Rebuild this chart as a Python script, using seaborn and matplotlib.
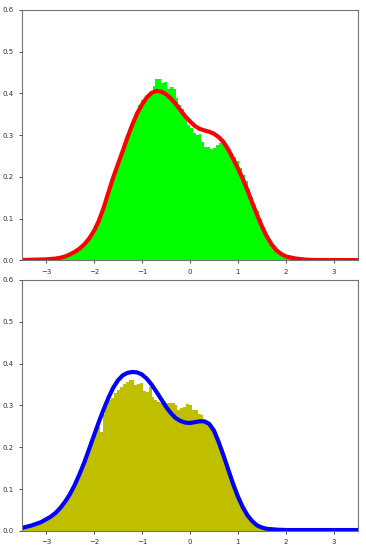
import numpy as np
import pandas as pd
import seaborn as sns
import matplotlib
matplotlib.use("Agg")
import matplotlib.pyplot as plt

# ---- top panel: histogram (bin width 0.06 from -3.0) + fitted density ----
top_start = -3.0
top_width = 0.06
top_heights = [
    0.001, 0.002, 0.003, 0.004, 0.005, 0.006, 0.008, 0.010, 0.013, 0.016,
    0.020, 0.025, 0.030, 0.037, 0.045, 0.054, 0.064, 0.077, 0.093, 0.112,
    0.131, 0.155, 0.177, 0.199, 0.221, 0.238, 0.262, 0.281, 0.302, 0.320,
    0.338, 0.356, 0.372, 0.383, 0.388, 0.397, 0.405, 0.418, 0.434, 0.434,
    0.425, 0.428, 0.410, 0.416, 0.411, 0.390, 0.372, 0.362, 0.345, 0.325,
    0.316, 0.304, 0.300, 0.302, 0.284, 0.272, 0.272, 0.267, 0.268, 0.275,
    0.282, 0.287, 0.277, 0.270, 0.258, 0.248, 0.238, 0.222, 0.205, 0.190,
    0.170, 0.152, 0.132, 0.118, 0.098, 0.080, 0.064, 0.050, 0.038, 0.029,
    0.021, 0.015, 0.011, 0.008, 0.006, 0.004, 0.003, 0.002, 0.001, 0.001,
]
top_curve_x = [-3.5, -3.0, -2.9, -2.8, -2.7, -2.6, -2.5, -2.4, -2.3, -2.2,
               -2.1, -2.0, -1.9, -1.8, -1.7, -1.6, -1.5, -1.4, -1.3, -1.2,
               -1.1, -1.0, -0.9, -0.8, -0.7, -0.6, -0.5, -0.4, -0.3, -0.2,
               -0.1, 0.0, 0.1, 0.2, 0.3, 0.4, 0.5, 0.6, 0.7, 0.8,
               0.9, 1.0, 1.1, 1.2, 1.3, 1.4, 1.5, 1.6, 1.7, 1.8,
               1.9, 2.0, 2.2, 2.4, 2.6, 3.5]
top_curve_y = [0.0005, 0.002, 0.003, 0.004, 0.006, 0.009, 0.014, 0.020, 0.028, 0.038,
               0.052, 0.070, 0.094, 0.125, 0.162, 0.198, 0.230, 0.262, 0.295, 0.325,
               0.352, 0.373, 0.390, 0.401, 0.406, 0.404, 0.398, 0.388, 0.375, 0.360,
               0.345, 0.333, 0.322, 0.315, 0.311, 0.308, 0.303, 0.295, 0.283, 0.265,
               0.243, 0.220, 0.195, 0.167, 0.137, 0.108, 0.081, 0.057, 0.038, 0.024,
               0.015, 0.009, 0.004, 0.0015, 0.0005, 0.0003]

# ---- bottom panel ----
bot_start = -3.5
bot_width = 0.06
bot_heights = [
    0.006, 0.008, 0.010, 0.012, 0.013, 0.016, 0.019, 0.022, 0.026, 0.030,
    0.033, 0.040, 0.045, 0.056, 0.063, 0.072, 0.082, 0.096, 0.108, 0.124,
    0.138, 0.156, 0.174, 0.193, 0.214, 0.232, 0.249, 0.236, 0.280, 0.298,
    0.312, 0.318, 0.330, 0.338, 0.345, 0.352, 0.357, 0.362, 0.360, 0.350,
    0.352, 0.354, 0.334, 0.332, 0.345, 0.320, 0.314, 0.309, 0.307, 0.310,
    0.307, 0.305, 0.306, 0.300, 0.289, 0.293, 0.297, 0.304, 0.301, 0.288,
    0.290, 0.279, 0.276, 0.266, 0.263, 0.248, 0.236, 0.222, 0.212, 0.190,
    0.172, 0.150, 0.130, 0.107, 0.088, 0.070, 0.055, 0.043, 0.032, 0.024,
    0.017, 0.012, 0.009, 0.006, 0.004, 0.003, 0.002, 0.001, 0.001, 0.0005,
]
bot_curve_x = [-3.5, -3.3, -3.1, -2.9, -2.8, -2.7, -2.6, -2.5, -2.4, -2.3,
               -2.2, -2.1, -2.0, -1.9, -1.8, -1.7, -1.6, -1.5, -1.4, -1.3,
               -1.2, -1.1, -1.0, -0.9, -0.8, -0.7, -0.6, -0.5, -0.4, -0.3,
               -0.2, -0.1, 0.0, 0.1, 0.2, 0.3, 0.4, 0.5, 0.6, 0.7,
               0.8, 0.9, 1.0, 1.1, 1.2, 1.3, 1.4, 1.5, 1.6, 1.8,
               2.0, 3.5]
bot_curve_y = [0.007, 0.013, 0.021, 0.034, 0.043, 0.055, 0.070, 0.088, 0.110, 0.136,
               0.164, 0.196, 0.228, 0.260, 0.290, 0.318, 0.342, 0.360, 0.372, 0.378,
               0.380, 0.379, 0.374, 0.364, 0.350, 0.333, 0.315, 0.297, 0.282, 0.270,
               0.263, 0.259, 0.258, 0.260, 0.262, 0.262, 0.256, 0.240, 0.212, 0.180,
               0.146, 0.112, 0.082, 0.057, 0.037, 0.023, 0.013, 0.008, 0.005, 0.003,
               0.002, 0.002]


def draw_panel(ax, start, width, heights, cx, cy, bar_color, line_color):
    n = len(heights)
    centers = start + width * (np.arange(n) + 0.5)
    df = pd.DataFrame({"x": centers, "w": heights})
    sns.histplot(data=df, x="x", weights="w", bins=n,
                 binrange=(start, start + width * n), stat="count",
                 element="step", fill=True, color=bar_color, alpha=1,
                 linewidth=0, ax=ax)
    sns.lineplot(x=cx, y=cy, color=line_color, linewidth=3, ax=ax)
    ax.set_xlim(-3.5, 3.5)
    ax.set_ylim(0, 0.6)
    ax.set_xticks([-3, -2, -1, 0, 1, 2, 3])
    ax.set_yticks([0.0, 0.1, 0.2, 0.3, 0.4, 0.5, 0.6])
    ax.set_ylabel("")
    ax.set_xlabel("")
    ax.tick_params(labelsize=5, length=2.5, width=0.6, colors="0.2")
    for s in ax.spines.values():
        s.set_color("0.45")
        s.set_linewidth(0.8)


fig = plt.figure(figsize=(3.66, 5.49), dpi=100)
ax1 = fig.add_axes([0.060, 0.526, 0.918, 0.456])
ax2 = fig.add_axes([0.060, 0.033, 0.918, 0.457])

draw_panel(ax1, top_start, top_width, top_heights, top_curve_x, top_curve_y, "lime", "red")
draw_panel(ax2, bot_start, bot_width, bot_heights, bot_curve_x, bot_curve_y, "y", "blue")

fig.savefig("out.png", dpi=100)
